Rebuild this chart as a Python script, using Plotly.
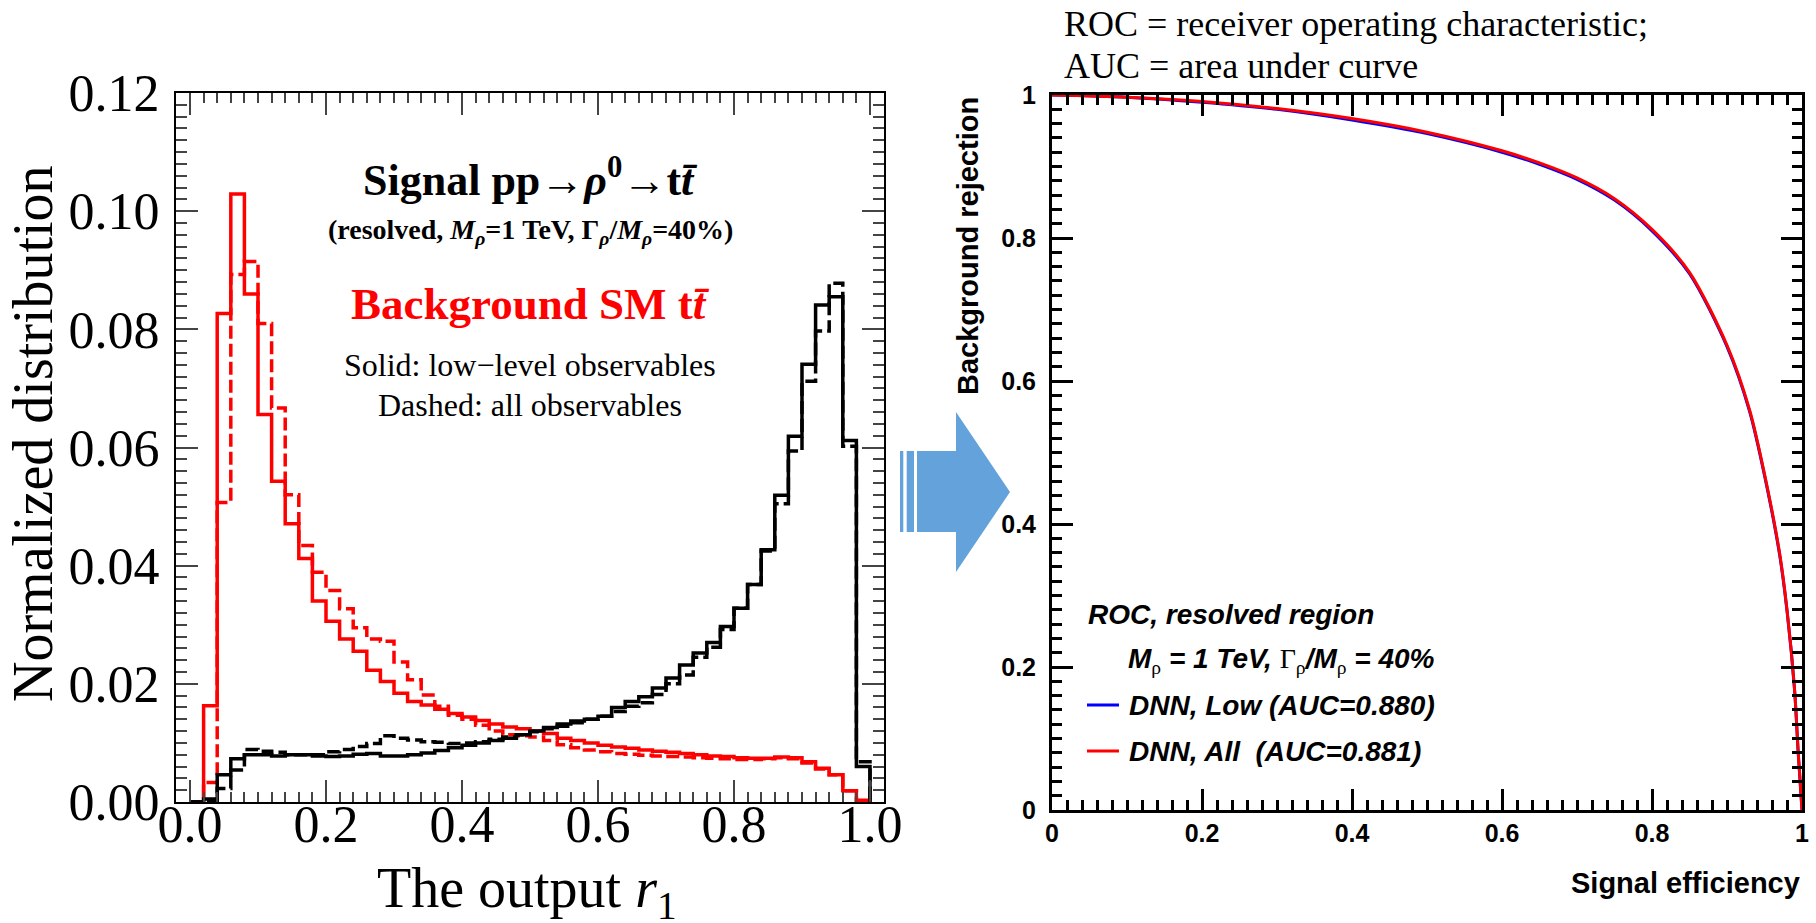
import numpy as np
import plotly.graph_objects as go

W, H = 1816, 923

# ---------------- histogram data (50 bins of width 0.02 on [0, 1]) ----------------
bin_edges = np.linspace(0.0, 1.0, 51)

# background SM ttbar, DNN trained on low-level observables (solid)
bkg_low = [
    0.0000, 0.0163, 0.0827, 0.1029, 0.0860, 0.0656, 0.0543, 0.0471, 0.0412, 0.0340,
    0.0306, 0.0276, 0.0255, 0.0223, 0.0204, 0.0184, 0.0170, 0.0164, 0.0157, 0.0150,
    0.0144, 0.0138, 0.0132, 0.0127, 0.0124, 0.0120, 0.0116, 0.0108, 0.0104, 0.0100,
    0.0096, 0.0093, 0.0091, 0.0088, 0.0086, 0.0084, 0.0082, 0.0080, 0.0078, 0.0077,
    0.0075, 0.0074, 0.0074, 0.0076, 0.0075, 0.0068, 0.0057, 0.0046, 0.0019, 0.0003,
]
# background SM ttbar, DNN trained on all observables (dashed)
bkg_all = [
    0.0000, 0.0033, 0.0507, 0.0893, 0.0915, 0.0810, 0.0667, 0.0520, 0.0434, 0.0389,
    0.0358, 0.0327, 0.0295, 0.0276, 0.0272, 0.0237, 0.0207, 0.0181, 0.0162, 0.0147,
    0.0140, 0.0130, 0.0120, 0.0114, 0.0112, 0.0110, 0.0104, 0.0097, 0.0092, 0.0088,
    0.0085, 0.0082, 0.0081, 0.0079, 0.0078, 0.0077, 0.0076, 0.0075, 0.0074, 0.0073,
    0.0072, 0.0072, 0.0073, 0.0075, 0.0073, 0.0066, 0.0056, 0.0046, 0.0019, 0.0002,
]
# signal pp -> rho0 -> ttbar, low-level observables (solid)
sig_low = [
    0.0000, 0.0005, 0.0046, 0.0073, 0.0080, 0.0080, 0.0078, 0.0080, 0.0080, 0.0078,
    0.0077, 0.0078, 0.0081, 0.0082, 0.0078, 0.0078, 0.0080, 0.0083, 0.0087, 0.0092,
    0.0096, 0.0100, 0.0104, 0.0108, 0.0114, 0.0120, 0.0126, 0.0132, 0.0137, 0.0140,
    0.0145, 0.0160, 0.0170, 0.0178, 0.0193, 0.0210, 0.0232, 0.0252, 0.0270, 0.0297,
    0.0328, 0.0368, 0.0427, 0.0519, 0.0619, 0.0741, 0.0841, 0.0855, 0.0612, 0.0060,
]
# signal pp -> rho0 -> ttbar, all observables (dashed)
sig_all = [
    0.0000, 0.0002, 0.0023, 0.0054, 0.0089, 0.0086, 0.0084, 0.0080, 0.0080, 0.0080,
    0.0085, 0.0089, 0.0094, 0.0099, 0.0112, 0.0108, 0.0105, 0.0102, 0.0101, 0.0099,
    0.0100, 0.0102, 0.0106, 0.0110, 0.0114, 0.0119, 0.0124, 0.0128, 0.0134, 0.0140,
    0.0145, 0.0153, 0.0162, 0.0168, 0.0182, 0.0200, 0.0215, 0.0245, 0.0262, 0.0292,
    0.0328, 0.0368, 0.0425, 0.0505, 0.0594, 0.0712, 0.0797, 0.0878, 0.0602, 0.0068,
]

# ---------------- ROC curves ----------------
sig_eff = [0.0, 0.1, 0.2, 0.3, 0.4, 0.5, 0.6, 0.65, 0.7, 0.75, 0.8, 0.85,
           0.9, 0.93, 0.95, 0.97, 0.98, 0.99, 0.995, 1.0]
bkg_rej_all = [1.0, 0.997, 0.991, 0.981, 0.967, 0.948, 0.922, 0.905, 0.884, 0.855,
               0.812, 0.752, 0.650, 0.56, 0.47, 0.36, 0.28, 0.17, 0.08, 0.0]
bkg_rej_low = [1.0, 0.997, 0.990, 0.980, 0.965, 0.946, 0.920, 0.903, 0.882, 0.853,
               0.810, 0.750, 0.648, 0.558, 0.468, 0.358, 0.279, 0.169, 0.079, 0.0]

# tick values
hist_xticks = [0.0, 0.2, 0.4, 0.6, 0.8, 1.0]
hist_yticks = [0.00, 0.02, 0.04, 0.06, 0.08, 0.10, 0.12]
roc_ticks = [0, 0.2, 0.4, 0.6, 0.8, 1]


def px(x):
    return x / W


def py(y):
    return 1 - y / H


def step_outline(values):
    xs = [bin_edges[0]] + list(bin_edges)
    ys = [0.0] + list(values) + [0.0]
    return xs, ys


SERIF = "Liberation Serif"
SANS = "Liberation Sans"

fig = go.Figure()

for vals, color, dash in [
    (bkg_low, "#ff0000", "solid"),
    (bkg_all, "#ff0000", "13px,5px"),
    (sig_low, "#000000", "solid"),
    (sig_all, "#000000", "13px,5px"),
]:
    xs, ys = step_outline(vals)
    fig.add_trace(go.Scatter(
        x=xs, y=ys, mode="lines", line=dict(color=color, width=3.5, dash=dash, shape="hv"),
        xaxis="x", yaxis="y", showlegend=False, hoverinfo="skip",
    ))

fig.add_trace(go.Scatter(
    x=sig_eff, y=bkg_rej_low, mode="lines", name="DNN, Low (AUC=0.880)",
    line=dict(color="#0000ff", width=3, shape="spline", smoothing=0.8),
    xaxis="x2", yaxis="y2", showlegend=False,
))
fig.add_trace(go.Scatter(
    x=sig_eff, y=bkg_rej_all, mode="lines", name="DNN, All  (AUC=0.881)",
    line=dict(color="#ff0000", width=3, shape="spline", smoothing=0.8),
    xaxis="x2", yaxis="y2", showlegend=False,
))

left_axis_common = dict(
    showline=True, linecolor="black", linewidth=2, mirror="allticks",
    ticks="inside", ticklen=22, tickwidth=1.5, tickcolor="#444",
    showgrid=False, zeroline=False,
    tickfont=dict(family=SERIF, size=52, color="black"),
)
right_axis_common = dict(
    showline=True, linecolor="black", linewidth=3, mirror="allticks",
    ticks="inside", ticklen=21, tickwidth=3, tickcolor="black",
    showgrid=False, zeroline=False,
    tickfont=dict(family=SANS, size=25, color="black", weight="bold"),
    range=[0, 1], tickvals=roc_ticks,
    minor=dict(dtick=0.02, ticklen=10, tickwidth=3, tickcolor="black", ticks="inside", showgrid=False),
)

fig.update_layout(
    width=W, height=H, autosize=False,
    margin=dict(l=0, r=0, t=0, b=0, autoexpand=False),
    paper_bgcolor="white", plot_bgcolor="white",
    xaxis=dict(
        domain=[px(176), px(884)], range=[-0.0206, 1.0206],
        tickvals=hist_xticks, tickformat=".1f", anchor="y", ticklabelstandoff=-24,
        minor=dict(dtick=0.02, tick0=0, ticklen=10, tickwidth=1.5, tickcolor="#444",
                   ticks="inside", showgrid=False),
        **left_axis_common,
    ),
    yaxis=dict(
        domain=[py(802), py(93)], range=[0, 0.12],
        tickvals=hist_yticks, tickformat=".2f", anchor="x", ticklabelstandoff=4,
        minor=dict(dtick=0.002, tick0=0, ticklen=11, tickwidth=1.5, tickcolor="#444",
                   ticks="inside", showgrid=False),
        **left_axis_common,
    ),
    xaxis2=dict(domain=[px(1052), px(1802)], anchor="y2", ticklabelstandoff=-1, **right_axis_common),
    yaxis2=dict(domain=[py(810), py(95)], anchor="x2", ticklabelstandoff=8, **right_axis_common),
)

ann = []


def text(x, y, s, size, family=SERIF, color="black", xanchor="center", yanchor="middle",
         angle=0, weight="normal", style="normal"):
    ann.append(dict(
        x=px(x), y=py(y), xref="paper", yref="paper", text=s, showarrow=False,
        xanchor=xanchor, yanchor=yanchor, textangle=angle,
        font=dict(family=family, size=size, color=color, weight=weight, style=style),
    ))


# left panel texts
text(33, 434, "Normalized distribution", 56, angle=-90)
text(527, 892, "The output <i>r</i><sub>1</sub>", 56)
text(530, 177, "<b>Signal pp→<i>ρ</i><sup>0</sup>→t<i>t̄</i></b>", 44)
text(530, 232, "<b>(resolved, <i>M<sub>ρ</sub></i>=1 TeV, Γ<sub><i>ρ</i></sub>/<i>M<sub>ρ</sub></i>=40%)</b>", 28)
text(530, 304, "<b>Background SM t<i>t̄</i></b>", 45, color="#ff0000")
text(530, 365, "Solid: low−level observables", 32)
text(530, 405, "Dashed: all observables", 32)

# right panel texts
text(1062, 24, "ROC = receiver operating characteristic;", 36, xanchor="left")
text(1062, 66, "AUC = area under curve", 36, xanchor="left")
text(968, 95, "Background rejection", 29, family=SANS, weight="bold", angle=-90, yanchor="top")
text(1802, 883, "Signal efficiency", 29, family=SANS, weight="bold", xanchor="right")

sym = 'style="font-family:Liberation Serif;font-style:normal;font-weight:normal"'
text(1086, 614, "ROC, resolved region", 28, family=SANS, weight="bold", style="italic", xanchor="left")
text(1126, 660,
     f"M<sub><span {sym}>ρ</span></sub> = 1 TeV, <span {sym}>Γ</span><sub><span {sym}>ρ</span></sub>"
     f"/M<sub><span {sym}>ρ</span></sub> = 40%",
     28, family=SANS, weight="bold", style="italic", xanchor="left")
text(1127, 705, "DNN, Low (AUC=0.880)", 28, family=SANS, weight="bold", style="italic", xanchor="left")
text(1127, 751, "DNN, All\u00a0\u00a0(AUC=0.881)", 28, family=SANS, weight="bold", style="italic",
     xanchor="left")

fig.update_layout(annotations=ann)

# legend samples and the arrow between the panels
shapes = [
    dict(type="line", xref="paper", yref="paper", x0=px(1087), x1=px(1119), y0=py(705), y1=py(705),
         line=dict(color="#0000ff", width=3)),
    dict(type="line", xref="paper", yref="paper", x0=px(1087), x1=px(1119), y0=py(751), y1=py(751),
         line=dict(color="#ff0000", width=3)),
]
arrow_color = "#64a2dc"
for x0, x1 in [(900, 903.3), (906.7, 914)]:
    shapes.append(dict(type="rect", xref="paper", yref="paper", x0=px(x0), x1=px(x1),
                       y0=py(532), y1=py(451), fillcolor=arrow_color, line=dict(width=0)))
pts = [(917, 451), (956, 451), (956, 412), (1010, 492), (956, 572), (956, 532), (917, 532)]
path = "M " + " L ".join(f"{px(a):.5f},{py(b):.5f}" for a, b in pts) + " Z"
shapes.append(dict(type="path", xref="paper", yref="paper", path=path,
                   fillcolor=arrow_color, line=dict(width=0)))
fig.update_layout(shapes=shapes)

fig.write_html("out.html")
